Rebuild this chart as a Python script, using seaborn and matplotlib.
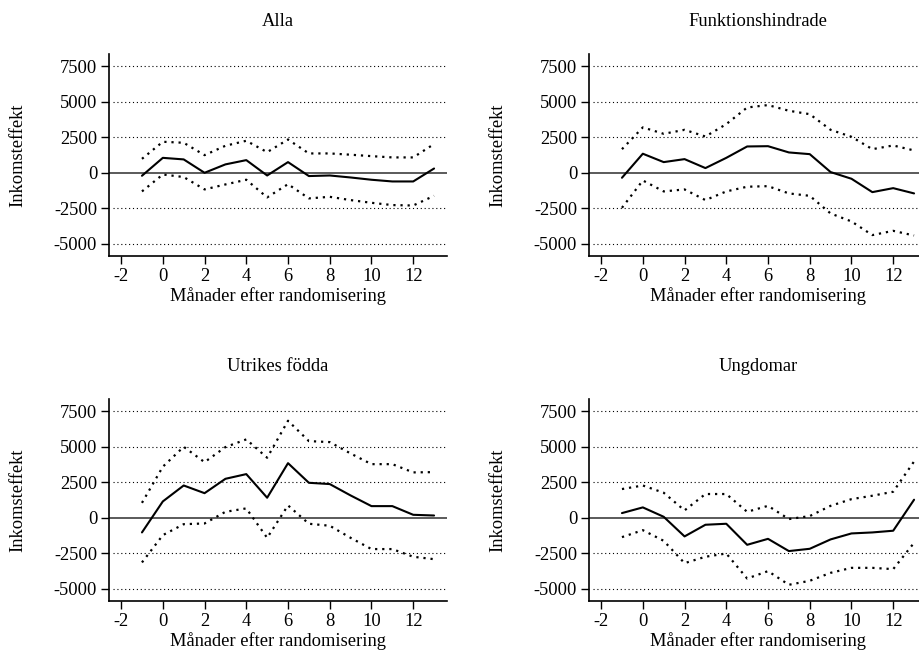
import matplotlib
matplotlib.use("Agg")
import matplotlib.pyplot as plt
import seaborn as sns

sns.set_style("white")
plt.rcParams["font.family"] = ["Liberation Serif", "DejaVu Serif"]
plt.rcParams["font.size"] = 13.3
plt.rcParams["text.color"] = "black"
plt.rcParams["axes.labelcolor"] = "black"
plt.rcParams["xtick.color"] = "black"
plt.rcParams["ytick.color"] = "black"

# months after randomisation
months = list(range(-1, 14))

titles = ["Alla", "Funktionshindrade", "Utrikes födda", "Ungdomar"]

# Alla
alla_est = [-210, 1050, 940, 0, 590, 890, -190, 750, -230, -190, -330, -490, -610, -610, 300]
alla_hi = [980, 2180, 2110, 1240, 1900, 2250, 1450, 2340, 1360, 1360, 1270, 1170, 1080, 1080, 2020]
alla_lo = [-1310, -120, -300, -1170, -820, -490, -1730, -800, -1800, -1690, -1920, -2110, -2270, -2300, -1620]

# Funktionshindrade
funk_est = [-350, 1340, 750, 960, 330, 1050, 1850, 1870, 1430, 1310, 50, -420, -1360, -1080, -1450]
funk_hi = [1660, 3190, 2740, 3020, 2550, 3420, 4590, 4760, 4360, 4120, 3020, 2530, 1660, 1920, 1570]
funk_lo = [-2460, -540, -1310, -1170, -1920, -1310, -980, -940, -1450, -1620, -2860, -3420, -4380, -4080, -4410]

# Utrikes födda
utr_est = [-1030, 1150, 2270, 1730, 2740, 3070, 1410, 3840, 2460, 2370, 1570, 820, 820, 210, 160]
utr_hi = [1050, 3590, 4990, 3910, 4970, 5510, 4220, 6820, 5390, 5320, 4520, 3770, 3770, 3190, 3210]
utr_lo = [-3140, -1220, -450, -400, 420, 660, -1410, 870, -420, -560, -1410, -2200, -2200, -2740, -2910]

# Ungdomar
ung_est = [330, 730, 70, -1310, -490, -420, -1900, -1480, -2340, -2180, -1520, -1100, -1030, -910, 1270]
ung_hi = [2020, 2270, 1760, 520, 1670, 1670, 420, 840, -90, 120, 840, 1310, 1550, 1830, 3960]
ung_lo = [-1360, -870, -1620, -3190, -2740, -2510, -4270, -3750, -4710, -4430, -3870, -3520, -3520, -3610, -1760]

panels = [
    (alla_est, alla_hi, alla_lo),
    (funk_est, funk_hi, funk_lo),
    (utr_est, utr_hi, utr_lo),
    (ung_est, ung_hi, ung_lo),
]

yticks = [-5000, -2500, 0, 2500, 5000, 7500]
xticks = list(range(-2, 13, 2))

W, H = 920, 655
fig = plt.figure(figsize=(W / 100, H / 100), dpi=100)

# axes boxes in pixels: (left, top)
boxes = [(109, 54), (589, 54), (109, 399), (589, 399)]
aw, ah = 338, 202

for (est, hi, lo), title, (left, top) in zip(panels, titles, boxes):
    ax = fig.add_axes([left / W, 1 - (top + ah) / H, aw / W, ah / H])

    for y in yticks:
        if y == 0:
            ax.axhline(0, color="0.3", lw=1.3, zorder=1)
        else:
            ax.axhline(y, xmin=0.012, xmax=0.994, color="black", lw=0.8,
                       ls=(0, (1, 2.5)), zorder=1)

    sns.lineplot(x=months, y=est, ax=ax, color="black", linewidth=1.5)
    sns.lineplot(x=months, y=hi, ax=ax, color="black", linewidth=1.6, linestyle=(0, (1, 2.2)))
    sns.lineplot(x=months, y=lo, ax=ax, color="black", linewidth=1.6, linestyle=(0, (1, 2.2)))

    ax.set_xlim(-2.58, 13.62)
    ax.set_ylim(-5850, 8350)
    ax.set_xticks(xticks)
    ax.set_yticks(yticks)
    ax.set_xticklabels([str(t) for t in xticks])
    ax.set_yticklabels([str(t) for t in yticks])

    for side in ["top", "right"]:
        ax.spines[side].set_visible(False)
    for side in ["left", "bottom"]:
        ax.spines[side].set_color("black")
        ax.spines[side].set_linewidth(1.2)

    ax.tick_params(axis="both", direction="out", length=5.5, width=1.0,
                   color="black", labelcolor="black", pad=3, labelsize=13.3,
                   left=True, bottom=True)

    ax.set_title(title, fontsize=13.3, pad=20, color="black")
    ax.set_xlabel("Månader efter randomisering", fontsize=13.3, labelpad=2)
    ax.set_ylabel("Inkomsteffekt", fontsize=13.3)
    ax.yaxis.set_label_coords(-0.246, 0.5)

fig.savefig("out.png", dpi=100)
